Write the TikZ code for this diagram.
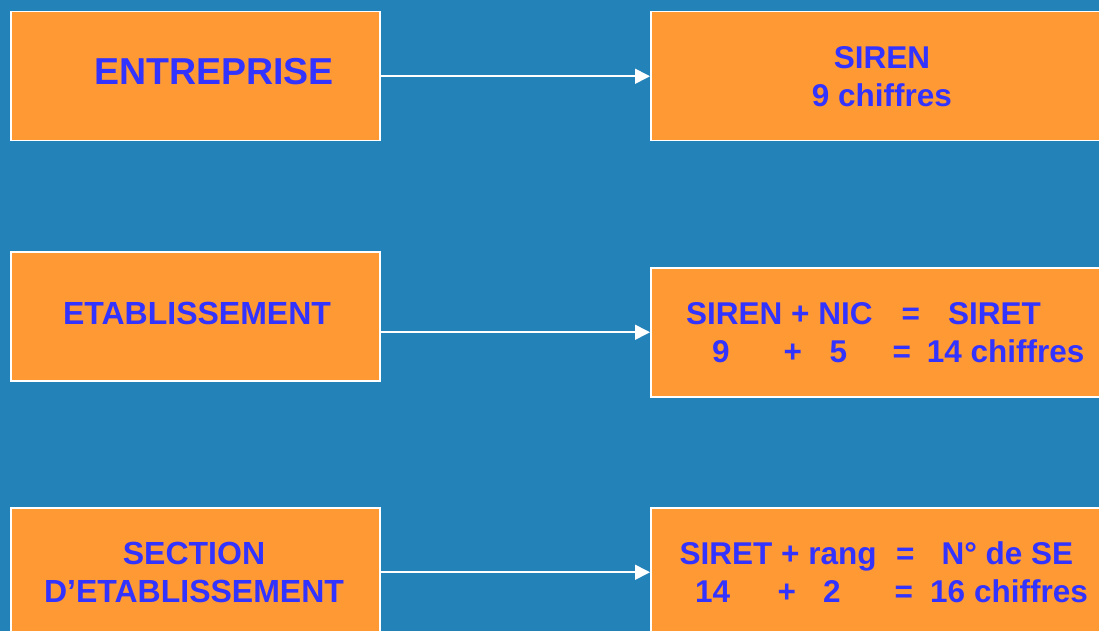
\documentclass[tikz,border=0pt]{standalone}
\usepackage{fontspec}
\setmainfont{Liberation Sans}
\usetikzlibrary{arrows.meta}
\definecolor{backColor}{RGB}{35,130,183}
\definecolor{boxColor}{RGB}{255,153,51}
\definecolor{labelColor}{RGB}{51,51,255}
\tikzstyle{boxStyle} = [draw=white, fill=boxColor, line width=1.5pt, minimum height=129pt, inner sep=0pt, anchor=north west]
\tikzstyle{leftBox} = [boxStyle, minimum width=369pt]
\tikzstyle{rightBox} = [boxStyle, minimum width=470pt]
\tikzstyle{boxText} = [text=labelColor, inner sep=0pt, anchor=base, font=\fontsize{31.5}{38}\selectfont\bfseries]
\tikzstyle{bigText} = [boxText, font=\fontsize{37.5}{45}\selectfont\bfseries]
\tikzstyle{linkArrow} = [draw=white, line width=1.6pt, -{Triangle[length=15pt, width=15pt]}]
\begin{document}
\begin{tikzpicture}[x = 1pt, y = -1pt]
  \path [use as bounding box, fill=backColor] (0,0) rectangle (1099,631);
  \clip (0,0) rectangle (1099,631);

  % entreprise
  \node [leftBox] (entreprise) at (10,11) {};
  \node [rightBox] (siren) at (650,11) {};
  \node [bigText] (entrepriseText) at (214,85) {ENTREPRISE};
  \node [boxText, align=center] (sirenText) at (882,107) {SIREN\\9 chiffres};
  \draw [linkArrow] (entreprise.east) -- (siren.west);

  % etablissement
  \node [leftBox] (etab) at (10,251) {};
  \node [rightBox] (siret) at (650,267) {};
  \node [boxText, font=\fontsize{32}{38}\selectfont\bfseries] (etabText) at (197,324) {ETABLISSEMENT};
  \node [boxText, align=left, anchor=base west] (siretText) at (686,362)
    {SIREN + NIC\hspace*{29pt}=\hspace*{28pt}SIRET\\
     \hspace*{26pt}9\hspace*{54pt}+\hspace*{27.6pt}5\hspace*{45.4pt}=\hspace*{15.8pt}14 chiffres};
  \draw [linkArrow] (etab.east |- siret.west) -- (siret.west);

  % section d'etablissement
  \node [leftBox] (section) at (10,507) {};
  \node [rightBox] (numSE) at (650,507) {};
  \node [boxText, align=center, font=\fontsize{32}{38}\selectfont\bfseries] (sectionText) at (194,602) {SECTION\\D’ETABLISSEMENT};
  \node [boxText, align=left, anchor=base west] (numSEText) at (679.5,602)
    {SIRET + rang\hspace*{19.5pt}=\hspace*{27pt}N° de SE\\
     \hspace*{15.5pt}14\hspace*{47.4pt}+\hspace*{27.2pt}2\hspace*{53.9pt}=\hspace*{17.2pt}16 chiffres};
  \draw [linkArrow] (section.east) -- (numSE.west);
\end{tikzpicture}
\end{document}
